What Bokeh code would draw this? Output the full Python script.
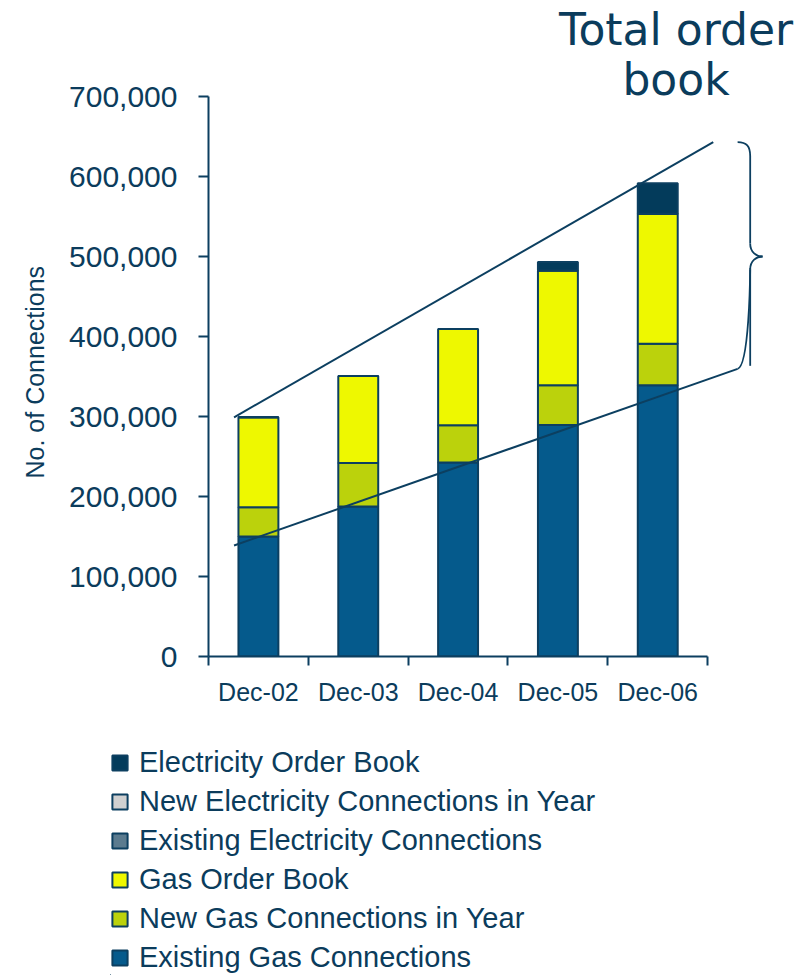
from bokeh.plotting import figure
from bokeh.models import (ColumnDataSource, Range1d, FixedTicker, NumeralTickFormatter,
                          Legend, LegendItem, Title)
from bokeh.layouts import column, row
from bokeh.core.properties import value
from bokeh.embed import file_html
from bokeh.resources import INLINE

# ---------------- data ----------------
categories = ["Dec-02", "Dec-03", "Dec-04", "Dec-05", "Dec-06"]
existing_gas = [150000, 187500, 242500, 289500, 339000]
new_gas = [36500, 54500, 46500, 49500, 52000]
gas_order_book = [112500, 108500, 120500, 143500, 162500]
existing_elec = [0, 0, 0, 0, 0]
new_elec = [0, 0, 0, 0, 0]
elec_order_book = [0, 0, 0, 10500, 38000]

series_names = ["Existing Gas Connections", "New Gas Connections in Year", "Gas Order Book",
                "Existing Electricity Connections", "New Electricity Connections in Year",
                "Electricity Order Book"]
series_colors = ["#055a8c", "#bbd20c", "#eef800", "#5b7b8f", "#d0d0d0", "#033b5b"]

y_ticks = [0, 100000, 200000, 300000, 400000, 500000, 600000, 700000]

# annotation geometry (data units)
upper_trend_x = [0.256, 5.056]
upper_trend_y = [299000, 643000]
lower_trend_x = [0.256, 5.30]
lower_trend_y = [138750, 359600]
title_lines = ["Total order", "book"]
y_label = "No. of Connections"

TXT = "#0b3c5c"
EDGE = "#0c3f60"
LW = 2

x_pos = [i + 0.5 for i in range(len(categories))]
keys = ["eg", "ng", "go", "ee", "ne", "eo"]
source = ColumnDataSource(dict(x=x_pos, eg=existing_gas, ng=new_gas, go=gas_order_book,
                               ee=existing_elec, ne=new_elec, eo=elec_order_book))

p = figure(width=805, height=740, output_backend="svg", toolbar_location=None,
           x_range=Range1d(0, 5.98), y_range=Range1d(0, 820000),
           min_border_left=207, min_border_right=0, min_border_top=0, min_border_bottom=84)
p.outline_line_color = None
p.xgrid.visible = False
p.ygrid.visible = False
p.background_fill_color = "white"

renderers = p.vbar_stack(keys, x="x", width=0.4, source=source, fill_color=series_colors,
                         line_color=EDGE, line_width=LW)

# trend lines
p.line(upper_trend_x, upper_trend_y, line_color=EDGE, line_width=LW)
p.line(lower_trend_x, lower_trend_y, line_color=EDGE, line_width=LW)

# brace
xl, xm, xt = 5.30, 5.426, 5.55
yt, yb, ym = 643000, 359600, 500000
k = 1250  # one pixel in y
p.bezier(x0=[xl, xm, xt, xm], y0=[yt, ym + 13 * k, ym, ym - 13 * k],
         x1=[xm, xt, xm, xl], y1=[yt - 14 * k, ym, ym - 13 * k, yb],
         cx0=[xl + 0.09, xm, xt - 0.06, xm], cy0=[yt, ym + 4 * k, ym, ym - 4 * k],
         cx1=[xm, xt - 0.06, xm, xm], cy1=[yt - 4 * k, ym, ym - 4 * k, yb + 3 * k],
         line_color=EDGE, line_width=1.8)
p.segment(x0=[xm, xm], y0=[yt - 14 * k, ym - 13 * k], x1=[xm, xm], y1=[ym + 13 * k, yb + 3 * k],
          line_color=EDGE, line_width=1.8)

# title
p.text(x=[4.683, 4.683], y=[783750, 721250], text=title_lines,
       text_font=value("DejaVu Sans"), text_font_size="44px", text_color=TXT,
       text_align="center", text_baseline="alphabetic")

# axes
xa = p.xaxis[0]
xa.bounds = (0, 5)
xa.ticker = FixedTicker(ticks=x_pos, minor_ticks=[0, 1, 2, 3, 4, 5])
xa.major_label_overrides = {x: c for x, c in zip(x_pos, categories)}
xa.major_tick_out = 0
xa.major_tick_in = 0
xa.minor_tick_out = 9
xa.minor_tick_in = 0
xa.minor_tick_line_color = EDGE
xa.minor_tick_line_width = 2
xa.axis_line_color = EDGE
xa.axis_line_width = 2
xa.major_label_text_font = "Liberation Sans"
xa.major_label_text_font_size = "25px"
xa.major_label_text_color = TXT
xa.major_label_standoff = 12

ya = p.yaxis[0]
ya.bounds = (0, 700000)
ya.ticker = FixedTicker(ticks=y_ticks)
ya.formatter = NumeralTickFormatter(format="0,0")
ya.major_tick_out = 10
ya.major_tick_in = 0
ya.minor_tick_out = 0
ya.minor_tick_in = 0
ya.major_tick_line_color = EDGE
ya.major_tick_line_width = 2
ya.axis_line_color = EDGE
ya.axis_line_width = 2
ya.major_label_text_font = "Liberation Sans"
ya.major_label_text_font_size = "30px"
ya.major_label_text_color = TXT
ya.major_label_standoff = 21

# y-axis title, placed along the 0..700,000 span rather than the whole frame
ytitle = Title(text=y_label, align="left", offset=178, standoff=36,
               text_font="Liberation Sans", text_font_size="25px", text_font_style="normal",
               text_color=TXT)
p.add_layout(ytitle, "left")

# legend panel underneath
p2 = figure(width=805, height=235, output_backend="svg", toolbar_location=None,
            x_range=Range1d(0, 1), y_range=Range1d(0, 1),
            x_axis_location=None, y_axis_location=None,
            min_border_left=110, min_border_right=0, min_border_top=6, min_border_bottom=0)
p2.outline_line_color = None
p2.xgrid.visible = False
p2.ygrid.visible = False
# legend swatches only (placed outside the visible range)
proxies = [p2.vbar(x=[-10], top=[0], width=0.1, fill_color=c, line_color=EDGE, line_width=LW)
           for c in series_colors]
items = [LegendItem(label=n, renderers=[r]) for n, r in zip(series_names, proxies)][::-1]
legend = Legend(items=items, location="top_left", orientation="vertical",
                glyph_width=19, glyph_height=19, label_standoff=10, spacing=6,
                padding=0, margin=0, border_line_color=None, background_fill_alpha=0,
                label_text_font="Liberation Sans", label_text_font_size="29px",
                label_text_color=TXT)
p2.add_layout(legend, "center")

layout = column(p, row(p2, spacing=0), spacing=0)
open("out.html", "w").write(file_html(layout, INLINE))
